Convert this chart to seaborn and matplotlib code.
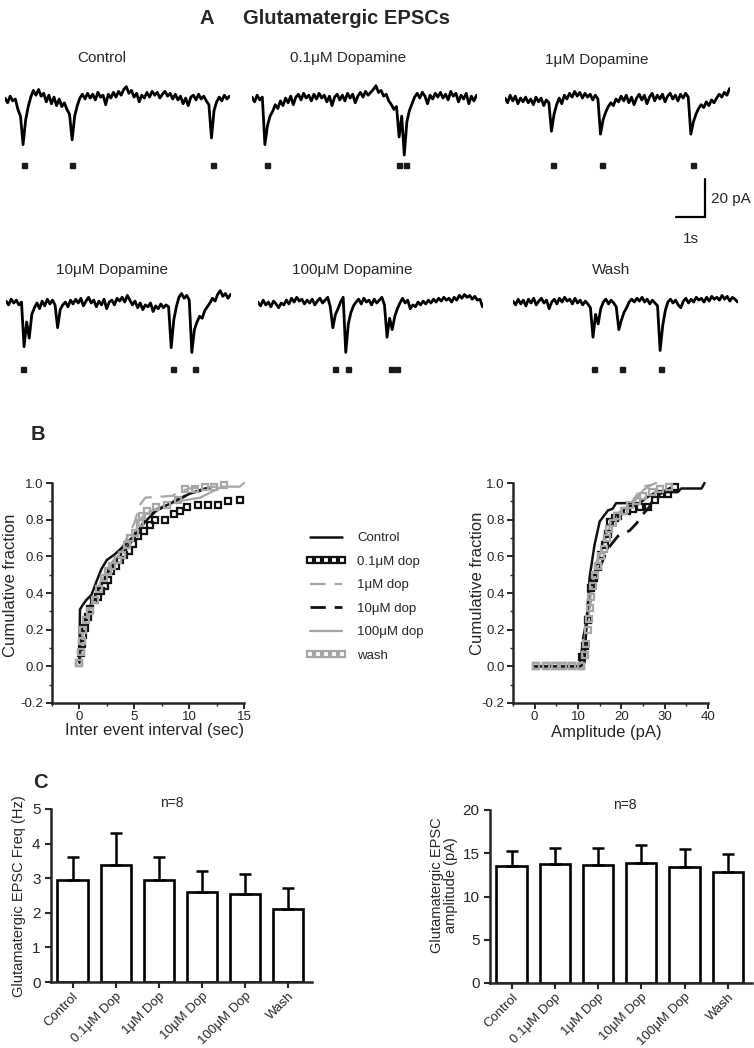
import numpy as np
import pandas as pd
import matplotlib
matplotlib.use('Agg')
import matplotlib.pyplot as plt
import seaborn as sns
from matplotlib.ticker import MultipleLocator, FormatStrFormatter

sns.set_style('ticks')
plt.rcParams['font.family'] = ['Liberation Sans', 'DejaVu Sans']

# ---------------- data ----------------
# A: sample traces (pA, relative to baseline), one sample every 0.089 s
trace_dt = 0.089
trace_names = ['Control', '0.1μM Dopamine', '1μM Dopamine',
               '10μM Dopamine', '100μM Dopamine', 'Wash']

tr_control = [0.5, -2.0, 1.5, -1.0, 0.0, -5.5, -9.0, -24.0, -11.0, -4.0,
              1.0, 4.5, 2.0, 5.0, 1.5, 3.0, -1.5, 2.0, -2.5, 1.0,
              -3.5, 0.0, -4.0, -2.0, -5.5, -8.0, -21.5, -9.0, -3.5, 0.5,
              2.5, 0.0, 3.0, 0.5, 2.5, -0.5, 3.5, 1.0, 2.0, -3.0,
              2.5, 0.5, 3.5, 1.0, 4.0, 2.0, 5.0, 6.5, 3.0, 4.5,
              1.0, 3.0, -1.5, 2.0, 0.5, 3.5, 1.0, 4.0, 2.0, 3.5,
              0.5, 2.5, 4.0, 1.5, 3.0, 0.0, 2.5, -0.5, 1.5, -2.5,
              0.5, -3.5, 1.0, 2.0, -0.5, 2.5, 0.0, 1.5, -1.0, -3.0,
              -20.5, -6.0, -1.5, 1.0, -1.0, 2.0, 0.0, 1.5]
tr_dop01 = [1.0, -1.5, 2.0, -0.5, 1.0, -24.0, -14.0, -9.0, -6.5, -3.0,
            -5.0, -1.0, -3.5, 0.5, -2.0, 1.5, -3.0, 1.0, 2.5, -0.5,
            3.0, 0.5, 2.0, -1.0, 2.5, 0.0, 3.0, 0.5, 2.0, -1.5,
            1.5, -3.5, 1.0, 2.5, -0.5, 2.0, -1.0, 3.0, 0.5, 2.5,
            -2.0, 1.5, 3.5, 1.0, 4.0, 2.0, 3.5, 5.0, 7.0, 3.5,
            4.5, 1.5, 2.5, -1.0, -3.0, -5.5, -4.0, -20.0, -9.0, -29.5,
            -12.0, -6.0, -2.5, 1.0, 3.0, 0.5, 3.5, 1.5, -2.5, 2.0,
            0.0, 3.0, 1.0, 3.5, 0.5, 2.5, -0.5, 4.0, 1.5, 3.0,
            -1.5, 2.0, 0.0, 3.0, -2.5, 1.5, -1.0, 2.0]
tr_dop1 = [0.5, -2.0, 2.0, -1.0, 1.5, -2.5, 0.5, -1.5, 1.0, -2.0,
           0.0, -3.0, 1.0, -1.5, 0.5, -3.5, -0.5, -2.0, -17.0, -8.0,
           -3.0, 0.5, -2.5, 2.0, 0.0, 3.0, 1.0, 4.0, 1.5, 3.5,
           0.5, 3.0, 1.0, 2.5, -0.5, 2.0, 0.0, -18.5, -11.0, -7.0,
           -4.0, -2.0, -3.5, 0.0, -1.5, 1.5, -1.0, 2.0, -2.0, 1.0,
           -3.0, 0.5, 2.5, -0.5, 2.0, -2.5, 1.0, 3.0, -1.0, 2.0,
           0.0, 2.5, -1.5, 1.5, 3.0, 0.0, 2.0, -1.0, 2.5, 0.5,
           3.0, 1.0, -18.5, -12.0, -8.0, -5.0, -3.0, -4.5, -1.5, -3.5,
           -0.5, -2.0, 0.5, 2.5, 1.0, 3.5, 2.0, 5.5]
tr_dop10 = [1.0, -1.0, 2.0, 0.0, 1.5, -1.0, 0.5, -23.0, -10.0, -18.5,
            -6.0, -2.5, 0.0, -3.0, 1.0, -1.5, 2.0, -0.5, 1.5, -1.0,
            -13.0, -3.5, -1.0, 0.5, -2.0, 1.5, -0.5, 2.0, 0.0, 2.5,
            -1.5, 1.0, 3.0, 0.0, 1.5, -2.0, 1.0, -1.0, 2.0, -3.0,
            0.5, 1.5, -1.0, 2.5, 1.0, 3.0, 0.5, 4.0, 1.5, -1.0,
            1.0, -2.5, 0.0, -3.5, -1.0, -2.0, 0.0, -4.5, -1.5, -3.0,
            -0.5, -2.5, -1.0, -2.0, -23.5, -9.0, -2.0, 3.0, 5.0, 2.5,
            4.0, 1.5, -26.0, -14.0, -10.0, -7.0, -8.0, -4.0, -2.0, 0.0,
            2.5, 1.0, 4.5, 6.5, 3.5, 5.0, 2.5, 4.5]
tr_dop100 = [0.5, -1.5, 1.5, -1.0, 0.5, -2.0, 1.0, -0.5, -2.5, 0.0,
             -1.0, 1.5, -0.5, 2.5, 0.5, 3.0, 1.0, 2.0, -0.5, 1.5,
             0.0, 2.0, -1.0, 1.0, 2.5, 0.0, 1.5, 3.0, -2.0, -13.0,
             -6.0, -3.0, 0.5, 3.0, -26.0, -11.0, -5.0, -1.5, 0.5, 2.0,
             -0.5, 2.5, 0.5, 1.5, -1.0, 2.0, 0.0, 1.5, 3.0, -1.0,
             -18.0, -8.0, -14.0, -7.0, -3.0, 0.0, 2.5, 0.0, 1.5, -3.0,
             -1.0, -2.0, 0.5, -1.0, 1.0, -0.5, 1.5, 0.0, 2.0, 0.5,
             2.5, 1.0, 3.0, 1.5, 2.5, 0.5, 3.0, 1.5, 4.0, 2.5,
             4.5, 3.0, 4.0, 2.0, 3.5, 1.5, 2.0, -2.0]
tr_wash = [1.0, -1.0, 2.0, -0.5, 1.5, -1.5, 2.0, 0.0, 2.5, -1.0,
           1.0, 2.5, 0.0, 1.5, -3.0, 0.5, 2.0, -0.5, 2.5, 0.5,
           3.0, 1.0, 2.0, -0.5, 2.5, 0.0, 1.5, -1.0, 1.0, -0.5,
           -2.5, -18.0, -6.0, -11.0, -3.0, 0.5, 2.0, -0.5, 1.5, 0.0,
           -2.0, -14.0, -9.0, -5.0, -2.5, 0.5, 2.0, 0.5, 2.5, 1.0,
           3.0, 0.5, 2.0, -0.5, 1.5, 0.0, -1.5, -25.0, -12.0, -4.0,
           0.5, 2.0, 0.0, 1.5, -1.0, -2.5, 1.0, 2.5, 0.0, 2.0,
           0.5, 3.0, 1.5, 2.5, 0.5, 3.0, 1.0, 3.5, 2.0, 3.0,
           1.5, 4.0, 2.0, 3.5, 1.0, 3.0, 2.0, 0.5]

# detected events (s)
ev_control = [0.66, 2.31, 7.17]
ev_dop01 = [0.52, 5.07, 5.31]
ev_dop1 = [1.66, 3.34, 6.48]
ev_dop10 = [0.59, 5.76, 6.52]
ev_dop100 = [2.66, 3.10, 4.59, 4.79]
ev_wash = [2.79, 3.76, 5.10]

# B: cumulative distributions
iei_control_x = [0, 0.05, 0.25, 0.6, 1.1, 1.6, 2.0, 2.5, 3.2, 4.3, 5.4, 6.0, 7.0, 8.0, 9.0, 10.0, 11.0, 11.8]
iei_control_y = [0.02, 0.31, 0.33, 0.36, 0.39, 0.47, 0.53, 0.58, 0.61, 0.67, 0.74, 0.79, 0.85, 0.88, 0.91, 0.94, 0.96, 0.97]
iei_dop01_x = [0, 0.1, 0.2, 0.35, 0.5, 0.8, 1.0, 1.3, 1.7, 2.0, 2.3, 2.6, 2.9, 3.3, 3.7, 4.1,
               4.5, 4.9, 5.3, 5.9, 6.4, 6.9, 7.8, 8.6, 9.2, 9.8, 10.8, 11.7, 12.6, 13.5, 14.6]
iei_dop01_y = [0.02, 0.07, 0.12, 0.17, 0.21, 0.27, 0.31, 0.36, 0.38, 0.41, 0.44, 0.47, 0.52, 0.55, 0.58, 0.61,
               0.63, 0.67, 0.71, 0.74, 0.77, 0.80, 0.80, 0.83, 0.85, 0.87, 0.88, 0.88, 0.88, 0.90, 0.91]
iei_dop1_x = [0, 0.3, 1.0, 2.0, 3.0, 4.0, 5.0, 5.5, 6.0, 8.5, 9.0, 10.0, 12.5]
iei_dop1_y = [0.02, 0.2, 0.33, 0.47, 0.57, 0.66, 0.78, 0.88, 0.92, 0.93, 0.95, 0.97, 0.98]
iei_dop10_x = [0, 0.3, 1.0, 2.0, 3.0, 4.0, 5.0, 6.0, 7.0, 8.0, 9.0, 10.0, 10.5, 11.5, 12.0]
iei_dop10_y = [0.02, 0.22, 0.33, 0.45, 0.55, 0.63, 0.70, 0.80, 0.85, 0.88, 0.91, 0.94, 0.95, 0.97, 0.97]
iei_dop100_x = [0, 0.3, 1.0, 2.0, 3.0, 4.0, 5.0, 5.5, 6.0, 7.0, 8.0, 9.0, 10.0, 11.0, 12.0, 13.0, 14.6, 15.0]
iei_dop100_y = [0.02, 0.2, 0.32, 0.46, 0.56, 0.64, 0.72, 0.80, 0.83, 0.86, 0.88, 0.90, 0.91, 0.92, 0.95, 0.98, 0.98, 1.0]
iei_wash_x = [0, 0.1, 0.2, 0.3, 0.6, 1.0, 1.4, 1.8, 2.2, 2.6, 3.0, 3.5, 3.9, 4.3, 4.6, 5.1,
              5.5, 5.7, 6.2, 7.0, 8.0, 9.0, 9.6, 10.5, 11.4, 12.3, 13.2]
iei_wash_y = [0.02, 0.08, 0.14, 0.2, 0.25, 0.3, 0.36, 0.42, 0.48, 0.52, 0.55, 0.58, 0.61, 0.66, 0.7, 0.73,
              0.78, 0.82, 0.85, 0.87, 0.88, 0.91, 0.97, 0.97, 0.98, 0.98, 0.99]

amp_control_x = [0, 10.5, 11.5, 12.0, 12.7, 13.8, 15.0, 16.9, 18.0, 18.8, 24.2, 25.8, 28.0, 33.0, 33.8, 38.5, 39.2]
amp_control_y = [0, 0, 0.02, 0.25, 0.49, 0.66, 0.79, 0.85, 0.86, 0.89, 0.89, 0.92, 0.95, 0.95, 0.97, 0.97, 1.0]
amp_dop01_x = [0.4, 2.7, 4.6, 6.5, 8.5, 10.8, 11.0, 11.5, 12.3, 13.1, 13.8, 14.6, 15.4, 16.2, 16.9, 17.3,
               18.5, 19.2, 21.2, 22.7, 24.2, 26.2, 27.7, 29.2, 30.8, 32.3]
amp_dop01_y = [0, 0, 0, 0, 0, 0, 0.05, 0.11, 0.25, 0.43, 0.48, 0.54, 0.61, 0.66, 0.72, 0.79,
               0.81, 0.82, 0.85, 0.86, 0.87, 0.87, 0.91, 0.94, 0.94, 0.98]
amp_dop1_x = [0, 10.8, 12.0, 13.0, 14.0, 15.0, 16.0, 17.0, 18.0, 20.0, 22.0, 24.0, 25.0, 27.0]
amp_dop1_y = [0, 0, 0.25, 0.45, 0.55, 0.62, 0.70, 0.76, 0.80, 0.85, 0.88, 0.95, 0.98, 0.99]
amp_dop10_x = [0, 10.5, 11.2, 12.0, 13.0, 14.0, 15.4, 16.5, 17.5, 19.2, 21.9, 23.5, 25.0, 26.5, 27.3, 29.5, 31.9]
amp_dop10_y = [0, 0, 0.15, 0.25, 0.38, 0.48, 0.56, 0.62, 0.66, 0.71, 0.74, 0.78, 0.83, 0.87, 0.91, 0.95, 0.98]
amp_dop100_x = [0, 11.0, 12.0, 13.0, 14.0, 15.0, 16.0, 17.0, 18.0, 19.0, 21.0, 23.0, 25.0, 27.0, 28.0]
amp_dop100_y = [0, 0, 0.2, 0.4, 0.52, 0.6, 0.68, 0.74, 0.8, 0.83, 0.86, 0.9, 0.96, 0.99, 1.0]
amp_wash_x = [0.4, 2.7, 4.6, 6.5, 8.5, 10.8, 11.5, 11.8, 12.2, 12.5, 12.8, 13.1, 13.5, 14.0, 14.6, 15.3,
              16.0, 16.6, 17.2, 18.0, 19.0, 20.5, 22.0, 23.5, 25.0, 27.0, 29.0, 31.0]
amp_wash_y = [0, 0, 0, 0, 0, 0, 0.06, 0.12, 0.2, 0.26, 0.32, 0.38, 0.44, 0.5, 0.55, 0.6,
              0.64, 0.7, 0.75, 0.78, 0.82, 0.85, 0.88, 0.9, 0.93, 0.95, 0.97, 0.98]

legend_labels = ['Control', '0.1μM dop', '1μM dop', '10μM dop', '100μM dop', 'wash']

# C: means and SEM, n=8
conditions = ['Control', '0.1μM Dop', '1μM Dop', '10μM Dop', '100μM Dop', 'Wash']
freq_mean = [2.94, 3.38, 2.96, 2.59, 2.54, 2.12]
freq_sem = [0.68, 0.93, 0.66, 0.61, 0.57, 0.61]
amp_mean = [13.5, 13.75, 13.63, 13.82, 13.36, 12.78]
amp_sem = [1.75, 1.89, 1.93, 2.13, 2.08, 2.12]

# ---------------- layout helpers (pixel boxes) ----------------
W, H = 754, 1048
fig = plt.figure(figsize=(W / 100, H / 100), dpi=100)


def box(l, t, r, b):
    return [l / W, 1 - b / H, (r - l) / W, (b - t) / H]


def ftext(x, y, s, **kw):
    fig.text(x / W, 1 - y / H, s, **kw)


# ---------------- A: traces ----------------
ftext(207, 19, 'A', ha='center', va='center', fontsize=14.5, fontweight='bold')
ftext(243, 19, 'Glutamatergic EPSCs', ha='left', va='center', fontsize=14.5, fontweight='bold')

traces = [tr_control, tr_dop01, tr_dop1, tr_dop10, tr_dop100, tr_wash]
events = [ev_control, ev_dop01, ev_dop1, ev_dop10, ev_dop100, ev_wash]
origins = [(5, 99), (252, 99), (505, 99), (6, 303), (258, 303), (513, 303)]
label_pos = [(102, 58), (348, 58), (597, 60), (112, 270), (352, 270), (611, 270)]
px_s, px_pA = 29.0, 1.9

trace_axes = []
for name, vals, evs, (x0, y0), (lx, ly) in zip(trace_names, traces, events, origins, label_pos):
    t = np.arange(len(vals)) * trace_dt
    dur = t[-1]
    ax = fig.add_axes(box(x0, y0 - 12 * px_pA, x0 + dur * px_s, y0 + 40 * px_pA))
    sns.lineplot(x=t, y=vals, ax=ax, color='black', lw=2.0)
    ax.plot(evs, [-34.5] * len(evs), 's', color='#1a1a1a', ms=3.6)
    ax.set_xlim(0, dur)
    ax.set_ylim(-40, 12)
    ax.axis('off')
    ftext(lx, ly, name, ha='center', va='center', fontsize=11)
    trace_axes.append(ax)

# scale bar: 1 s, 20 pA
sb = trace_axes[2]
sb.plot([5.9, 6.9, 6.9], [-62.1, -62.1, -42.1], color='black', lw=1.6,
        clip_on=False, solid_joinstyle='miter')
sb.text(7.1, -52.5, '20 pA', ha='left', va='center', fontsize=11)
sb.text(6.4, -73.5, '1s', ha='center', va='center', fontsize=11)

# ---------------- B: cumulative fractions ----------------
ftext(38, 435, 'B', ha='center', va='center', fontsize=14.5, fontweight='bold')

black, gray = '#111111', '#a6a6a6'
styles = [
    dict(color=black, lw=1.8, ls='-'),
    dict(color=black, ls='none', marker='s', ms=4.6, mfc='none', mew=1.6),
    dict(color=gray, lw=1.6, ls=(0, (7.0, 4.0))),
    dict(color=black, lw=2.0, ls=(0, (5.5, 3.2))),
    dict(color=gray, lw=1.6, ls='-'),
    dict(color=gray, ls='none', marker='s', ms=4.6, mfc='none', mew=1.6),
]
iei_sets = [(iei_control_x, iei_control_y), (iei_dop01_x, iei_dop01_y), (iei_dop1_x, iei_dop1_y),
            (iei_dop10_x, iei_dop10_y), (iei_dop100_x, iei_dop100_y), (iei_wash_x, iei_wash_y)]
amp_sets = [(amp_control_x, amp_control_y), (amp_dop01_x, amp_dop01_y), (amp_dop1_x, amp_dop1_y),
            (amp_dop10_x, amp_dop10_y), (amp_dop100_x, amp_dop100_y), (amp_wash_x, amp_wash_y)]
draw_order = [3, 2, 4, 0, 1, 5]

axb1 = fig.add_axes(box(52, 483, 244, 703))
axb2 = fig.add_axes(box(513, 483, 708, 703))
handles = {}
for ax, sets in [(axb1, iei_sets), (axb2, amp_sets)]:
    for k in draw_order:
        x, y = sets[k]
        ln, = ax.plot(x, y, clip_on=False, label=legend_labels[k], **styles[k])
        handles[k] = ln
    ax.set_ylim(-0.2, 1.0)
    ax.yaxis.set_major_locator(MultipleLocator(0.2))
    ax.yaxis.set_minor_locator(MultipleLocator(0.1))
    ax.yaxis.set_major_formatter(FormatStrFormatter('%.1f'))
    sns.despine(ax=ax)
    for s in ['left', 'bottom']:
        ax.spines[s].set_linewidth(1.8)
    ax.tick_params(which='major', length=4, width=1.4, labelsize=9.5, pad=2)
    ax.tick_params(which='minor', length=2.5, width=1.0)

axb1.set_xlim(-2.5, 15)
axb1.set_xticks([0, 5, 10, 15])
axb1.xaxis.set_minor_locator(MultipleLocator(2.5))
axb2.set_xlim(-5, 40)
axb2.set_xticks([0, 10, 20, 30, 40])
axb2.xaxis.set_minor_locator(MultipleLocator(5))

ftext(11, 585, 'Cumulative fraction', rotation=90, ha='center', va='center', fontsize=12)
ftext(478, 583, 'Cumulative fraction', rotation=90, ha='center', va='center', fontsize=12)
ftext(155, 731, 'Inter event interval (sec)', ha='center', va='center', fontsize=12)
ftext(606, 733, 'Amplitude (pA)', ha='center', va='center', fontsize=12)

fig.legend([handles[k] for k in range(6)], legend_labels, loc='center left',
           bbox_to_anchor=(306 / W, 1 - 597 / H), frameon=False, fontsize=9.5,
           numpoints=5, handlelength=3.0, handletextpad=0.9, labelspacing=0.85,
           borderpad=0, borderaxespad=0)

# ---------------- C: bar charts ----------------
ftext(40, 783, 'C', ha='center', va='center', fontsize=14.5, fontweight='bold')

df = pd.DataFrame({'condition': conditions, 'freq': freq_mean, 'amp': amp_mean})
axc1 = fig.add_axes(box(51, 809, 312, 982))
axc2 = fig.add_axes(box(490, 810, 752, 983))
for ax, col, sem, top in [(axc1, 'freq', freq_sem, 5), (axc2, 'amp', amp_sem, 20)]:
    sns.barplot(data=df, x='condition', y=col, ax=ax, color='white', saturation=1,
                edgecolor='black', linewidth=1.9, width=0.7, errorbar=None)
    ax.errorbar(np.arange(len(conditions)), df[col], yerr=[np.zeros(len(sem)), sem],
                fmt='none', ecolor='black', elinewidth=1.8, capsize=4, capthick=1.8, zorder=1)
    ax.set_ylim(0, top)
    ax.set_xlim(-0.5, 5.56)
    ax.set_xlabel('')
    ax.set_ylabel('')
    sns.despine(ax=ax)
    for s in ['left', 'bottom']:
        ax.spines[s].set_linewidth(1.8)
    ax.tick_params(length=4, width=1.5, labelsize=11)
    ax.tick_params(axis='x', labelsize=9.5, pad=2)
    for lab in ax.get_xticklabels():
        lab.set_rotation(45)
        lab.set_ha('right')
        lab.set_rotation_mode('anchor')

axc1.set_yticks([0, 1, 2, 3, 4, 5])
axc2.set_yticks([0, 5, 10, 15, 20])
ftext(172, 803, 'n=8', ha='center', va='center', fontsize=10)
ftext(625, 805, 'n=8', ha='center', va='center', fontsize=10)
ftext(19, 896, 'Glutamatergic EPSC Freq (Hz)', rotation=90, ha='center', va='center', fontsize=10.5)
ftext(444, 885, 'Glutamatergic EPSC\namplitude (pA)', rotation=90, ha='center', va='center',
      fontsize=10.5, linespacing=1.0)

fig.savefig('out.png', dpi=100)
